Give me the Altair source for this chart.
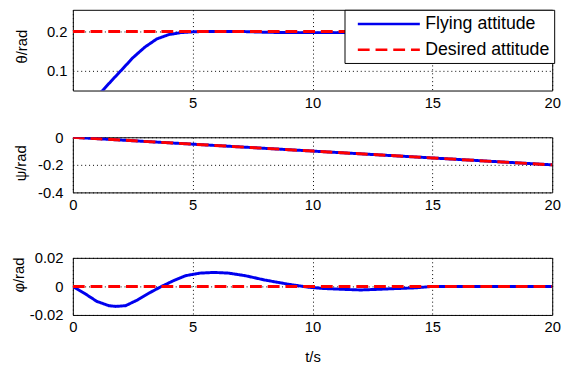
import altair as alt
import pandas as pd

FONT = "Liberation Sans"
BLUE = "#0000ee"
RED = "#ff0000"
SERIES = ["Flying attitude", "Desired attitude"]

# ---- data ----
t_theta = [0.0, 0.6, 1.24, 1.6, 2.0, 2.5, 3.0, 3.5, 4.0, 4.5, 5.0, 5.5, 6.0, 7.0, 8.0,
           9.0, 10.0, 11.0, 12.0, 13.0, 14.0, 15.0, 16.0, 17.0, 18.0, 19.0, 20.0]
theta_fly = [0.0, 0.01, 0.05, 0.074, 0.1, 0.133, 0.16, 0.181, 0.192, 0.197, 0.199, 0.2, 0.2,
             0.2, 0.198, 0.197, 0.197, 0.197, 0.198, 0.199, 0.2, 0.2, 0.2, 0.2, 0.2, 0.2, 0.2]
t_theta_des = [0.0, 20.0]
theta_des = [0.2, 0.2]

t_psi = [0.0, 5.0, 10.0, 15.0, 20.0]
psi_fly = [0.0, -0.05, -0.1, -0.15, -0.2]
psi_des = [0.0, -0.05, -0.1, -0.15, -0.2]

t_phi = [0.0, 0.5, 1.0, 1.5, 1.8, 2.2, 2.7, 3.2, 3.7, 4.2, 4.7, 5.3, 5.9, 6.5, 7.2, 8.0,
         9.0, 9.8, 10.5, 11.2, 12.0, 12.8, 13.5, 14.3, 15.0, 16.0, 18.0, 20.0]
phi_fly = [0.0, -0.005, -0.0105, -0.0135, -0.014, -0.0135, -0.0095, -0.0045, 0.0, 0.004,
           0.0075, 0.0093, 0.0098, 0.0093, 0.0075, 0.0045, 0.0015, -0.0005, -0.0015, -0.002,
           -0.0025, -0.002, -0.0015, -0.001, 0.0, 0.0, 0.0, 0.0]
t_phi_des = [0.0, 20.0]
phi_des = [0.0, 0.0]

x_ticks = [0, 5, 10, 15, 20]


def frame(t, v, name):
    return pd.DataFrame({"t": t, "v": v, "series": name})


def panel(fly, des, ydom, yticks, h, ytitle, title_x, title_y, label_pad,
          legend=False, hide_zero=False, xtitle=None, xtitle_hidden=False):
    leg = None
    if legend:
        leg = alt.Legend(
            title=None, orient="none", legendX=276, legendY=0, direction="vertical",
            fillColor="white", strokeColor="black", padding=4, cornerRadius=0,
            symbolType="M-0.11,0H6.89", symbolSize=324, symbolStrokeWidth=2.5,
            labelFont=FONT, labelFontSize=18, labelColor="black", labelOffset=57,
            rowPadding=6, labelExpr="datum.label + '  '",
        )
    color = alt.Color("series:N", scale=alt.Scale(domain=SERIES, range=[BLUE, RED]), legend=leg)
    dash = alt.StrokeDash("series:N", scale=alt.Scale(domain=SERIES, range=[[1, 0], [12, 6]]),
                          legend=leg)
    xlab = "datum.value == 0 ? '' : '' + datum.value" if hide_zero else "'' + datum.value"
    if xtitle_hidden:
        xaxis = alt.Axis(values=x_ticks, grid=True, labelPadding=5, labelFlush=False,
                         labelExpr=xlab, title="t/s", titleOpacity=0, titlePadding=4)
    else:
        xaxis = alt.Axis(values=x_ticks, grid=True, labelPadding=5, labelFlush=False,
                         labelExpr=xlab, title=xtitle if xtitle else None, titlePadding=15)
    yaxis = alt.Axis(values=yticks, grid=True, labelPadding=label_pad, title=ytitle,
                     labelExpr="'' + datum.value", labelFlush=False,
                     titleX=title_x, titleY=title_y, titleAngle=-90, titleBaseline="middle",
                     titleAlign="center")
    x = alt.X("t:Q", scale=alt.Scale(domain=[0, 20], nice=False, zero=False), axis=xaxis)
    y = alt.Y("v:Q", scale=alt.Scale(domain=ydom, nice=False, zero=False), axis=yaxis)
    l1 = alt.Chart(fly).mark_line(strokeWidth=3, clip=True).encode(x=x, y=y, color=color, strokeDash=dash)
    l2 = alt.Chart(des).mark_line(strokeWidth=3, clip=True).encode(x=x, y=y, color=color, strokeDash=dash)
    return alt.layer(l1, l2).properties(width=487, height=h)


p1 = panel(frame(t_theta, theta_fly, SERIES[0]), frame(t_theta_des, theta_des, SERIES[1]),
           [0.05, 0.255], [0.1, 0.2], 82, "θ/rad", -52, 37, 6, legend=True, hide_zero=True)
p2 = panel(frame(t_psi, psi_fly, SERIES[0]), frame(t_psi, psi_des, SERIES[1]),
           [-0.4, 0.0], [-0.4, -0.2, 0.0], 56, "ψ/rad", -53, 26, 10, xtitle_hidden=True)
p3 = panel(frame(t_phi, phi_fly, SERIES[0]), frame(t_phi_des, phi_des, SERIES[1]),
           [-0.02, 0.02], [-0.02, 0.0, 0.02], 58, "φ/rad", -55, 17, 10, xtitle="t/s")

chart = alt.vconcat(p1, p2, p3, spacing=18.5).resolve_scale(color="shared", strokeDash="shared").properties(
    padding={"left": 11, "top": 6, "right": 5, "bottom": 5}
).configure_view(stroke="black", strokeWidth=1).configure_axis(
    labelFont=FONT, labelFontSize=15, labelColor="black",
    titleFont=FONT, titleFontSize=15, titleFontWeight="normal", titleColor="black",
    domain=False, ticks=False, gridColor="black", gridDash=[1, 3], gridWidth=1, gridOpacity=1,
)

chart.save("out.html", embed_options={"renderer": "svg", "actions": False})
